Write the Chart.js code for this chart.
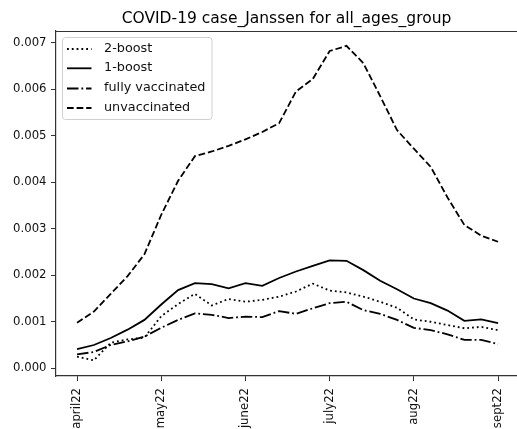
<!DOCTYPE html>
<html>
<head>
<meta charset="utf-8">
<script src="https://cdn.jsdelivr.net/npm/chart.js@4/dist/chart.umd.min.js"></script>
<style>
html, body { margin: 0; padding: 0; background: #fff; overflow: hidden; }
canvas { display: block; }
</style>
</head>
<body>
<canvas id="c" width="517" height="429"></canvas>
<script>
// ---- data ----
const tickLabels = ['april22', 'may22', 'june22', 'july22', 'aug22', 'sept22'];
const tickIndices = [0, 5, 10, 15, 20, 25];
const seriesNames = ['2-boost', '1-boost', 'fully vaccinated', 'unvaccinated'];

const twoBoost = [0.00025,0.00017,0.00055,0.00062,0.00066,0.00112,0.00138,0.00160,0.00135,0.00149,0.00143,0.00147,0.00154,0.00165,0.00182,0.00167,0.00163,0.00154,0.00143,0.00130,0.00105,0.00100,0.00093,0.00086,0.00089,0.00082];
const oneBoost = [0.00041,0.00050,0.00065,0.00083,0.00104,0.00137,0.00168,0.00183,0.00181,0.00172,0.00183,0.00177,0.00194,0.00208,0.00220,0.00232,0.00231,0.00211,0.00188,0.00170,0.00150,0.00140,0.00124,0.00102,0.00105,0.00097];
const fullyVaccinated = [0.00030,0.00035,0.00050,0.00058,0.00068,0.00087,0.00104,0.00118,0.00115,0.00108,0.00111,0.00110,0.00123,0.00117,0.00129,0.00140,0.00143,0.00125,0.00117,0.00104,0.00087,0.00082,0.00073,0.00061,0.00061,0.00052];
const unvaccinated = [0.00098,0.00122,0.00160,0.00198,0.00245,0.00330,0.00403,0.00456,0.00466,0.00478,0.00492,0.00508,0.00527,0.00595,0.00622,0.00682,0.00693,0.00656,0.00585,0.00512,0.00472,0.00433,0.00367,0.00308,0.00285,0.00272];

const yTicks = [0, 0.001, 0.002, 0.003, 0.004, 0.005, 0.006, 0.007];

const FONT = "'DejaVu Sans', sans-serif";
const toPoints = arr => arr.map((v, i) => ({ x: i, y: v }));

const dashes = [
  [1.8, 3.0],
  [],
  [11.5, 2.9, 1.8, 2.9],
  [6.7, 2.9]
];
const seriesData = [twoBoost, oneBoost, fullyVaccinated, unvaccinated];

const datasets = seriesData.map((d, k) => ({
  label: seriesNames[k],
  data: toPoints(d),
  borderColor: '#000',
  backgroundColor: '#000',
  borderWidth: 1.8,
  borderDash: dashes[k],
  borderCapStyle: 'butt',
  pointRadius: 0,
  tension: 0,
  fill: false
}));

const frameAndLegend = {
  id: 'frameAndLegend',
  afterDatasetsDraw(chart) {
    const ctx = chart.ctx;
    const a = chart.chartArea;
    ctx.save();
    // top spine (right spine lies just outside the picture)
    ctx.strokeStyle = '#333';
    ctx.lineWidth = 1.2;
    ctx.setLineDash([]);
    ctx.beginPath();
    ctx.moveTo(a.left, a.top + 0.5);
    ctx.lineTo(chart.width, a.top + 0.5);
    ctx.stroke();
    // legend box
    const lx = 62.5, ly = 37.5, lw = 149.5, lh = 82, r = 3;
    ctx.beginPath();
    ctx.moveTo(lx + r, ly);
    ctx.lineTo(lx + lw - r, ly);
    ctx.quadraticCurveTo(lx + lw, ly, lx + lw, ly + r);
    ctx.lineTo(lx + lw, ly + lh - r);
    ctx.quadraticCurveTo(lx + lw, ly + lh, lx + lw - r, ly + lh);
    ctx.lineTo(lx + r, ly + lh);
    ctx.quadraticCurveTo(lx, ly + lh, lx, ly + lh - r);
    ctx.lineTo(lx, ly + r);
    ctx.quadraticCurveTo(lx, ly, lx + r, ly);
    ctx.closePath();
    ctx.fillStyle = 'rgba(255,255,255,0.8)';
    ctx.fill();
    ctx.strokeStyle = '#d0d0d0';
    ctx.lineWidth = 1;
    ctx.stroke();
    const rows = [49, 68.3, 88.5, 108];
    chart.data.datasets.forEach((ds, k) => {
      const y = rows[k];
      ctx.beginPath();
      ctx.setLineDash(ds.borderDash || []);
      ctx.lineWidth = ds.borderWidth;
      ctx.strokeStyle = ds.borderColor;
      ctx.lineCap = 'butt';
      ctx.moveTo(67, y);
      ctx.lineTo(91.5, y);
      ctx.stroke();
      ctx.setLineDash([]);
      ctx.fillStyle = '#111';
      ctx.font = '12.8px ' + FONT;
      ctx.textBaseline = 'middle';
      ctx.textAlign = 'left';
      ctx.fillText(ds.label, 104, y - 0.7);
    });
    ctx.restore();
  }
};

new Chart(document.getElementById('c'), {
  type: 'line',
  data: { datasets },
  options: {
    responsive: false,
    animation: false,
    events: [],
    layout: { padding: 0 },
    plugins: {
      legend: { display: false },
      tooltip: { enabled: false },
      title: {
        display: true,
        text: 'COVID-19 case_Janssen for all_ages_group',
        fullSize: false,
        color: '#000',
        font: { family: FONT, size: 15.5, weight: 'normal', lineHeight: 1.2 },
        padding: { top: 9.3, bottom: 3.1 }
      }
    },
    scales: {
      x: {
        type: 'linear',
        min: -1.25,
        max: 26.125,
        afterBuildTicks: s => { s.ticks = tickIndices.map(v => ({ value: v })); },
        afterFit: s => { s.height = 53; s.paddingRight = 0; },
        grid: { display: true, drawOnChartArea: false, drawTicks: true, tickLength: 5, color: '#333', tickColor: '#333' },
        border: { display: true, color: '#333', width: 1.2 },
        ticks: {
          autoSkip: false,
          maxRotation: 90,
          minRotation: 90,
          padding: 7,
          color: '#111',
          font: { family: FONT, size: 11.7 },
          callback: v => tickLabels[tickIndices.indexOf(v)]
        }
      },
      y: {
        type: 'linear',
        min: -0.000166,
        max: 0.00725,
        afterBuildTicks: s => { s.ticks = yTicks.map(v => ({ value: v })); },
        afterFit: s => { s.width = 56; },
        grid: { display: true, drawOnChartArea: false, drawTicks: true, tickLength: 5, color: '#333', tickColor: '#333' },
        border: { display: true, color: '#333', width: 1.2 },
        ticks: {
          padding: 4.5,
          color: '#111',
          font: { family: FONT, size: 11.7 },
          callback: v => v.toFixed(3)
        }
      }
    }
  },
  plugins: [frameAndLegend]
});
</script>
</body>
</html>
